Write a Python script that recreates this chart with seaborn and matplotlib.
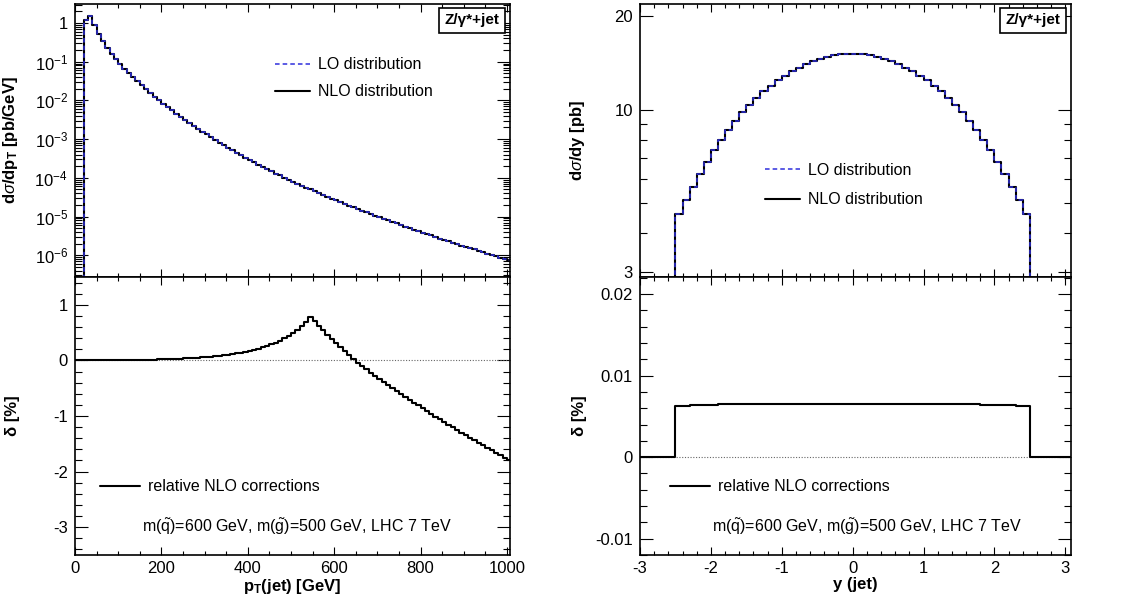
import numpy as np
import pandas as pd
import matplotlib
matplotlib.use('Agg')
import matplotlib.pyplot as plt
import seaborn as sns
from matplotlib.ticker import (FixedLocator, MultipleLocator, LogLocator,
                               FuncFormatter, NullFormatter)

# pT(jet) spectrum, 10 GeV bins from 20 GeV  [pb/GeV]
pt_edges = np.arange(20, 1011, 10)
lo_pt = [
    1.20, 1.55, 0.871, 0.525, 0.339, 0.229, 0.162, 0.117, 8.71e-2, 6.61e-2,
    5.13e-2, 3.98e-2, 3.16e-2, 2.51e-2, 2.00e-2, 1.58e-2, 1.26e-2, 1.02e-2, 8.32e-3, 6.76e-3,
    5.50e-3, 4.57e-3, 3.80e-3, 3.16e-3, 2.63e-3, 2.19e-3, 1.86e-3, 1.55e-3, 1.32e-3, 1.12e-3,
    9.55e-4, 8.13e-4, 6.92e-4, 6.03e-4, 5.13e-4, 4.47e-4, 3.80e-4, 3.31e-4, 2.88e-4, 2.51e-4,
    2.19e-4, 1.91e-4, 1.66e-4, 1.48e-4, 1.29e-4, 1.15e-4, 1.00e-4, 8.91e-5, 7.94e-5, 7.08e-5,
    6.31e-5, 5.62e-5, 5.01e-5, 4.47e-5, 3.98e-5, 3.55e-5, 3.24e-5, 2.88e-5, 2.63e-5, 2.34e-5,
    2.14e-5, 1.91e-5, 1.74e-5, 1.55e-5, 1.41e-5, 1.29e-5, 1.15e-5, 1.05e-5, 9.55e-6, 8.71e-6,
    7.94e-6, 7.24e-6, 6.61e-6, 6.03e-6, 5.50e-6, 5.01e-6, 4.57e-6, 4.17e-6, 3.80e-6, 3.55e-6,
    3.24e-6, 2.95e-6, 2.69e-6, 2.51e-6, 2.29e-6, 2.09e-6, 1.95e-6, 1.78e-6, 1.66e-6, 1.51e-6,
    1.41e-6, 1.29e-6, 1.20e-6, 1.10e-6, 1.02e-6, 9.33e-7, 8.71e-7, 8.13e-7, 7.41e-7,
]
# NLO lies on top of LO at this scale (corrections below 2 %)
nlo_pt = list(lo_pt)

# relative NLO correction in pT [%], 10 GeV bins from 0 GeV
dpt_edges = np.arange(0, 1011, 10)
delta_pt = [
    0.0, 0.0,
    0.000, 0.001, 0.001, 0.002, 0.002, 0.003, 0.003, 0.004, 0.005, 0.006,
    0.007, 0.008, 0.009, 0.010, 0.012, 0.013, 0.015, 0.017, 0.019, 0.021,
    0.024, 0.027, 0.031, 0.035, 0.040, 0.045, 0.050, 0.055, 0.060, 0.067,
    0.075, 0.083, 0.092, 0.102, 0.113, 0.126, 0.140, 0.156, 0.173, 0.192,
    0.213, 0.236, 0.262, 0.290, 0.320, 0.355, 0.395, 0.440, 0.490, 0.545,
    0.610, 0.690, 0.780, 0.700, 0.620, 0.540, 0.460, 0.380, 0.310, 0.240,
    0.170, 0.100, 0.030, -0.040, -0.100, -0.160, -0.220, -0.280, -0.340, -0.390,
    -0.450, -0.500, -0.550, -0.610, -0.660, -0.710, -0.760, -0.810, -0.860, -0.910,
    -0.960, -1.010, -1.060, -1.110, -1.160, -1.200, -1.250, -1.300, -1.350, -1.390,
    -1.440, -1.480, -1.530, -1.570, -1.620, -1.660, -1.700, -1.750, -1.790,
]

# rapidity spectrum, 0.1 bins for |y| < 2.5  [pb]
y_edges = np.round(np.arange(-2.5, 2.51, 0.1), 2)
lo_y = [
    4.60, 5.11, 5.64, 6.22, 6.78, 7.39, 8.00, 8.61, 9.22, 9.81,
    10.37, 10.92, 11.45, 11.96, 12.44, 12.88, 13.29, 13.66, 14.00, 14.30,
    14.56, 14.78, 14.96, 15.09, 15.17,
    15.17, 15.09, 14.96, 14.78, 14.56, 14.30, 14.00, 13.66, 13.29, 12.88,
    12.44, 11.96, 11.45, 10.92, 10.37, 9.81, 9.22, 8.61, 8.00, 7.39,
    6.78, 6.22, 5.64, 5.11, 4.60,
]
nlo_y = list(lo_y)

# relative NLO correction in y [%], 0.1 bins over the full axis
dy_edges = np.round(np.arange(-3.0, 3.11, 0.1), 2)
delta_y = [0.0] * 5 + [
    0.00628, 0.00633, 0.00637, 0.00640, 0.00643, 0.00645, 0.00647, 0.00649, 0.00651, 0.00652,
    0.00653, 0.00654, 0.00655, 0.00656, 0.00656, 0.00657, 0.00657, 0.00658, 0.00658, 0.00658,
    0.00658, 0.00658, 0.00658, 0.00658, 0.00658,
    0.00658, 0.00658, 0.00658, 0.00658, 0.00658, 0.00658, 0.00658, 0.00657, 0.00657, 0.00656,
    0.00656, 0.00655, 0.00654, 0.00653, 0.00652, 0.00651, 0.00649, 0.00647, 0.00645, 0.00643,
    0.00640, 0.00637, 0.00634, 0.00631, 0.00627,
] + [0.0] * 6

LO_COLOR = '#2f2fdc'
SUSY_TEXT = r'm($\tilde{\mathrm{q}}$)=600 GeV, m($\tilde{\mathrm{g}}$)=500 GeV, LHC 7 TeV'


def step_frame(edges, values, drop=None):
    """Points for a steps-post histogram outline."""
    x = list(edges)
    y = list(values) + [values[-1]]
    if drop is not None:
        x = [edges[0]] + x + [edges[-1]]
        y = [drop] + y + [drop]
    return pd.DataFrame({'x': x, 'y': y})


def hist_line(ax, edges, values, drop=None, **kws):
    df = step_frame(edges, values, drop)
    sns.lineplot(data=df, x='x', y='y', estimator=None, sort=False,
                 drawstyle='steps-post', ax=ax, **kws)
    return ax.lines[-1]


def style_axes(ax):
    ax.tick_params(which='both', direction='in', top=True, right=True,
                   width=0.8, color='black', labelcolor='black', labelsize=12)
    ax.tick_params(axis='y', which='major', length=9.5, pad=5)
    ax.tick_params(axis='y', which='minor', length=4.7)
    ax.tick_params(axis='x', which='major', length=5.8, pad=4)
    ax.tick_params(axis='x', which='minor', length=2.9)
    for sp in ax.spines.values():
        sp.set_linewidth(1.2)
        sp.set_color('black')
    ax.set_xlabel('')
    ax.set_ylabel('')


def tag_box(ax):
    ax.text(0.976, 0.966, 'Z/γ*+jet', transform=ax.transAxes, ha='right',
            va='top', fontsize=11, fontweight='bold', color='black',
            bbox=dict(boxstyle='square,pad=0.35', fc='white', ec='black', lw=1.2))


sns.set_theme(style='ticks')
plt.rcParams['font.family'] = ['Liberation Sans', 'DejaVu Sans']
plt.rcParams['mathtext.fontset'] = 'custom'
plt.rcParams['mathtext.rm'] = 'Liberation Sans'
plt.rcParams['mathtext.it'] = 'Liberation Sans:italic'
plt.rcParams['mathtext.bf'] = 'Liberation Sans:bold'
plt.rcParams['axes.unicode_minus'] = False
plt.rcParams['text.color'] = 'black'
plt.rcParams['axes.labelcolor'] = 'black'
plt.rcParams['legend.labelcolor'] = 'black'

fig = plt.figure(figsize=(11.22, 6.03), dpi=100)
ax_pt = fig.add_axes([0.0668, 0.5406, 0.3877, 0.4527])
ax_dpt = fig.add_axes([0.0668, 0.0796, 0.3877, 0.4610])
ax_y = fig.add_axes([0.5704, 0.5406, 0.3841, 0.4527])
ax_dy = fig.add_axes([0.5704, 0.0796, 0.3841, 0.4610])

# --- pT spectrum
ax_pt.set_yscale('log')
nlo_line = hist_line(ax_pt, pt_edges, nlo_pt, drop=1e-9, color='black', lw=1.5)
lo_line = hist_line(ax_pt, pt_edges, lo_pt, drop=1e-9, color=LO_COLOR, lw=1.1,
                    linestyle=(0, (3, 2)))
ax_pt.set_xlim(0, 1007)
ax_pt.set_ylim(2.73e-7, 3.1)
ax_pt.yaxis.set_major_locator(LogLocator(base=10, numticks=15))
ax_pt.yaxis.set_minor_locator(LogLocator(base=10, subs=np.arange(2, 10), numticks=15))
ax_pt.yaxis.set_major_formatter(FuncFormatter(
    lambda v, p: '1' if abs(v - 1) < 1e-9 else r'$10^{%d}$' % round(np.log10(v))))
ax_pt.yaxis.set_minor_formatter(NullFormatter())
ax_pt.legend(handles=[lo_line, nlo_line], labels=['LO distribution', 'NLO distribution'],
             loc='upper left', bbox_to_anchor=(0.46, 0.805), frameon=False,
             fontsize=11.5, handlelength=2.2, handletextpad=0.5, labelspacing=0.75,
             borderpad=0, borderaxespad=0)
tag_box(ax_pt)

# --- pT corrections
ax_dpt.axhline(0, color='#666666', lw=0.8, ls=(0, (1, 1.5)))
d_line = hist_line(ax_dpt, dpt_edges, delta_pt, color='black', lw=1.5)
ax_dpt.set_xlim(0, 1007)
ax_dpt.set_ylim(-3.5, 1.5)
ax_dpt.yaxis.set_major_locator(MultipleLocator(1))
ax_dpt.yaxis.set_minor_locator(MultipleLocator(0.2))
ax_dpt.legend(handles=[d_line], labels=['relative NLO corrections'], loc='upper left',
              bbox_to_anchor=(0.057, 0.272), frameon=False, fontsize=11.5,
              handlelength=2.5, handletextpad=0.5, borderpad=0, borderaxespad=0)
ax_dpt.text(0.154, 0.10, SUSY_TEXT, transform=ax_dpt.transAxes, ha='left',
            va='center', fontsize=11.5, color='black')

for ax in (ax_pt, ax_dpt):
    ax.xaxis.set_major_locator(MultipleLocator(200))
    ax.xaxis.set_minor_locator(MultipleLocator(50))

# --- rapidity spectrum
ax_y.set_yscale('log')
nlo_line_y = hist_line(ax_y, y_edges, nlo_y, drop=1.0, color='black', lw=1.5)
lo_line_y = hist_line(ax_y, y_edges, lo_y, drop=1.0, color=LO_COLOR, lw=1.1,
                      linestyle=(0, (3, 2)))
ax_y.set_xlim(-3, 3.08)
ax_y.set_ylim(2.89, 21.9)
ax_y.yaxis.set_major_locator(FixedLocator([3, 10, 20]))
ax_y.yaxis.set_minor_locator(FixedLocator([4, 5, 6, 7, 8, 9]))
ax_y.yaxis.set_major_formatter(FuncFormatter(lambda v, p: '%g' % v))
ax_y.yaxis.set_minor_formatter(NullFormatter())
ax_y.legend(handles=[lo_line_y, nlo_line_y], labels=['LO distribution', 'NLO distribution'],
            loc='upper left', bbox_to_anchor=(0.29, 0.418), frameon=False,
            fontsize=11.5, handlelength=2.2, handletextpad=0.5, labelspacing=0.9,
            borderpad=0, borderaxespad=0)
tag_box(ax_y)

# --- rapidity corrections
ax_dy.axhline(0, color='#666666', lw=0.8, ls=(0, (1, 1.5)))
dy_line = hist_line(ax_dy, dy_edges, delta_y, color='black', lw=1.5)
ax_dy.set_xlim(-3, 3.08)
ax_dy.set_ylim(-0.012, 0.0221)
ax_dy.yaxis.set_major_locator(MultipleLocator(0.01))
ax_dy.yaxis.set_minor_locator(MultipleLocator(0.002))
ax_dy.yaxis.set_major_formatter(FuncFormatter(lambda v, p: '0' if abs(v) < 1e-9 else '%g' % v))
ax_dy.legend(handles=[dy_line], labels=['relative NLO corrections'], loc='upper left',
             bbox_to_anchor=(0.07, 0.273), frameon=False, fontsize=11.5,
             handlelength=2.5, handletextpad=0.5, borderpad=0, borderaxespad=0)
ax_dy.text(0.167, 0.10, SUSY_TEXT, transform=ax_dy.transAxes, ha='left',
           va='center', fontsize=11.5, color='black')

for ax in (ax_y, ax_dy):
    ax.xaxis.set_major_locator(MultipleLocator(1))
    ax.xaxis.set_minor_locator(MultipleLocator(0.2))

for ax in (ax_pt, ax_dpt, ax_y, ax_dy):
    style_axes(ax)
for ax in (ax_pt, ax_y):
    ax.tick_params(labelbottom=False)

ax_pt.set_ylabel(r'd$\sigma$/dp$_{\mathbf{T}}$ [pb/GeV]', fontsize=12, fontweight='bold')
ax_dpt.set_ylabel('δ [%]', fontsize=12, fontweight='bold')
ax_y.set_ylabel(r'd$\sigma$/dy [pb]', fontsize=12, fontweight='bold')
ax_dy.set_ylabel('δ [%]', fontsize=12, fontweight='bold')
for ax in (ax_pt, ax_dpt):
    ax.yaxis.set_label_coords(-0.126, 0.5)
for ax in (ax_y, ax_dy):
    ax.yaxis.set_label_coords(-0.123, 0.5)

ax_dpt.set_xlabel(r'p$_{\mathbf{T}}$(jet) [GeV]', fontsize=12, fontweight='bold')
ax_dy.set_xlabel('y (jet)', fontsize=12, fontweight='bold')
for ax in (ax_dpt, ax_dy):
    ax.xaxis.set_label_coords(0.5, -0.078)

fig.savefig('out.png', dpi=100)
